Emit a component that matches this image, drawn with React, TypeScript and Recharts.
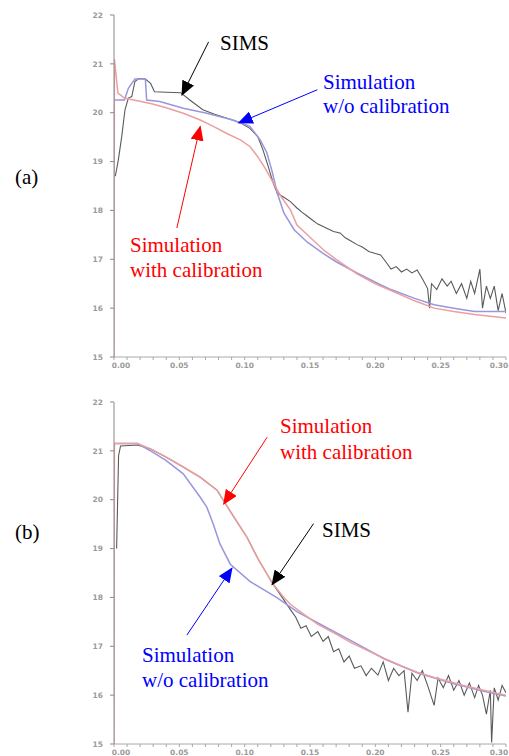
import React from "react";
import { LineChart, Line, XAxis, YAxis, ReferenceLine } from "recharts";

// axis ticks (depth in um, log10 concentration)
const X_TICKS = [0, 0.01, 0.02, 0.03, 0.04, 0.05, 0.06, 0.07, 0.08, 0.09, 0.1, 0.11, 0.12, 0.13, 0.14, 0.15, 0.16, 0.17, 0.18, 0.19, 0.2, 0.21, 0.22, 0.23, 0.24, 0.25, 0.26, 0.27, 0.28, 0.29, 0.3];
const X_LABELED = [0, 0.05, 0.1, 0.15, 0.2, 0.25, 0.3];
const Y_TICKS = [15, 16, 17, 18, 19, 20, 21, 22];

// ---- panel (a) ----
const A_SIMS_DEPTH = [0.001, 0.0033, 0.0059, 0.0084, 0.011, 0.0136, 0.016, 0.019, 0.024, 0.028, 0.031, 0.04, 0.051, 0.058, 0.068, 0.077, 0.086, 0.097, 0.104, 0.11, 0.114, 0.118, 0.122, 0.125, 0.13, 0.135, 0.14, 0.144, 0.148, 0.152, 0.156, 0.16, 0.164, 0.168, 0.173, 0.177, 0.181, 0.186, 0.19, 0.195, 0.2, 0.204, 0.208, 0.212, 0.216, 0.22, 0.224, 0.228, 0.232, 0.236, 0.24, 0.2415, 0.243, 0.247, 0.251, 0.255, 0.258, 0.262, 0.266, 0.27, 0.273, 0.276, 0.28, 0.282, 0.285, 0.288, 0.291, 0.294, 0.297, 0.3];
const A_SIMS_CONC = [18.7, 19.03, 19.51, 20.06, 20.3, 20.33, 20.64, 20.7, 20.69, 20.6, 20.43, 20.42, 20.41, 20.26, 20.06, 19.97, 19.89, 19.79, 19.68, 19.51, 19.24, 18.9, 18.55, 18.35, 18.27, 18.18, 18.05, 17.96, 17.88, 17.8, 17.72, 17.67, 17.62, 17.57, 17.54, 17.44, 17.38, 17.3, 17.25, 17.16, 17.12, 17.09, 16.95, 16.8, 16.85, 16.74, 16.8, 16.72, 16.78, 16.6, 16.4, 16.0, 16.5, 16.38, 16.6, 16.45, 16.55, 16.3, 16.5, 16.2, 16.55, 16.3, 16.8, 16.0, 16.45, 16.2, 16.45, 15.95, 16.3, 15.9];

const A_NOCAL_DEPTH = [0, 0.008, 0.011, 0.0136, 0.016, 0.024, 0.025, 0.035, 0.053, 0.071, 0.091, 0.104, 0.112, 0.117, 0.121, 0.125, 0.13, 0.138, 0.148, 0.16, 0.17, 0.186, 0.2, 0.212, 0.23, 0.245, 0.26, 0.276, 0.3];
const A_NOCAL_CONC = [20.26, 20.26, 20.5, 20.6, 20.69, 20.69, 20.26, 20.23, 20.09, 19.99, 19.85, 19.72, 19.44, 19.18, 18.8, 18.35, 17.95, 17.6, 17.35, 17.12, 16.95, 16.72, 16.53, 16.38, 16.2, 16.07, 16.0, 15.93, 15.93];

const A_CAL_DEPTH = [0, 0.0003, 0.003, 0.008, 0.015, 0.028, 0.04, 0.053, 0.066, 0.076, 0.086, 0.097, 0.104, 0.11, 0.116, 0.122, 0.128, 0.135, 0.14, 0.15, 0.16, 0.17, 0.186, 0.2, 0.212, 0.23, 0.245, 0.26, 0.276, 0.3];
const A_CAL_CONC = [15, 21.1, 20.4, 20.3, 20.26, 20.19, 20.1, 19.99, 19.85, 19.72, 19.58, 19.44, 19.31, 19.1, 18.85, 18.56, 18.28, 18.01, 17.7, 17.45, 17.2, 17.0, 16.7, 16.5, 16.36, 16.15, 16.0, 15.93, 15.87, 15.8];

// ---- panel (b) ----
const B_SIMS_DEPTH = [0.002, 0.0035, 0.005, 0.018, 0.028, 0.04, 0.053, 0.066, 0.079, 0.09, 0.102, 0.11, 0.121, 0.13, 0.135, 0.139, 0.143, 0.147, 0.151, 0.156, 0.16, 0.164, 0.168, 0.172, 0.176, 0.18, 0.184, 0.189, 0.193, 0.197, 0.202, 0.206, 0.21, 0.214, 0.218, 0.222, 0.225, 0.228, 0.232, 0.236, 0.24, 0.245, 0.248, 0.252, 0.256, 0.26, 0.264, 0.268, 0.272, 0.276, 0.279, 0.282, 0.285, 0.288, 0.289, 0.291, 0.294, 0.297, 0.3];
const B_SIMS_CONC = [19.0, 20.9, 21.1, 21.12, 21.04, 20.87, 20.67, 20.46, 20.19, 19.72, 19.22, 18.8, 18.3, 17.95, 17.75, 17.6, 17.37, 17.42, 17.2, 17.3, 17.1, 17.2, 16.89, 16.95, 16.68, 16.8, 16.55, 16.6, 16.4, 16.55, 16.41, 16.68, 16.3, 16.55, 16.4, 16.5, 15.65, 16.45, 16.3, 16.5, 16.2, 15.79, 16.35, 16.15, 16.4, 16.1, 16.3, 16.0, 16.25, 15.95, 16.2, 16.0, 15.61, 16.1, 15.03, 16.15, 15.9, 16.2, 16.05];

const B_NOCAL_DEPTH = [0, 0.018, 0.028, 0.04, 0.053, 0.066, 0.071, 0.076, 0.081, 0.089, 0.104, 0.125, 0.14, 0.16, 0.186, 0.207, 0.232, 0.258, 0.283, 0.3];
const B_NOCAL_CONC = [21.15, 21.15, 21.0, 20.8, 20.53, 20.05, 19.85, 19.5, 19.1, 18.68, 18.33, 17.99, 17.71, 17.42, 17.05, 16.74, 16.46, 16.25, 16.08, 15.98];

const B_CAL_DEPTH = [0, 0.0003, 0.018, 0.028, 0.04, 0.053, 0.066, 0.079, 0.09, 0.102, 0.11, 0.121, 0.13, 0.135, 0.143, 0.156, 0.17, 0.181, 0.195, 0.207, 0.22, 0.232, 0.245, 0.258, 0.27, 0.283, 0.3];
const B_CAL_CONC = [15, 21.15, 21.15, 21.04, 20.87, 20.67, 20.46, 20.19, 19.72, 19.22, 18.8, 18.3, 18.0, 17.86, 17.7, 17.45, 17.25, 17.08, 16.9, 16.75, 16.6, 16.47, 16.36, 16.27, 16.18, 16.1, 16.0];

const SIMS_COLOR = "#5a5a5a";
const NOCAL_COLOR = "#9896dc";
const CAL_COLOR = "#eb9f9f";
const FONT = "'Liberation Serif', 'Times New Roman', serif";

type Arrow = { from: [number, number]; to: [number, number]; color: string; head: string };

const A_ARROWS: Arrow[] = [
  { from: [0.0724, 21.45], to: [0.052, 20.36], color: "#000", head: "hk" },
  { from: [0.1556, 20.47], to: [0.0954, 19.79], color: "#0000ff", head: "hb" },
  { from: [0.0481, 17.64], to: [0.066, 19.72], color: "#ff0000", head: "hr" },
];
const B_ARROWS: Arrow[] = [
  { from: [0.1172, 21.28], to: [0.0839, 19.91], color: "#ff0000", head: "hr" },
  { from: [0.1527, 19.51], to: [0.121, 18.26], color: "#000", head: "hk" },
  { from: [0.0558, 17.23], to: [0.0903, 18.6], color: "#0000ff", head: "hb" },
];

const zip = (xs: number[], ys: number[]) => xs.map((x, i) => ({ depth: x, conc: ys[i] }));

const tickStyle = { fontSize: 7.5, fill: "#9a9a9a", fontFamily: "DejaVu Sans", fontWeight: 700 };

// bottom tick: label only every 0.05; first/last nudged like the scan
const DepthTick = (p: any) => {
  const v = p.payload.value;
  if (!X_LABELED.some((l) => Math.abs(l - v) < 1e-6)) return <g />;
  const dx = v === 0 ? 7 : v >= 0.3 ? -7 : 0;
  return (
    <text x={p.x + dx} y={p.y} dy="0.71em" textAnchor="middle" {...tickStyle}>
      {v.toFixed(2)}
    </text>
  );
};

function Panel({ sims, nocal, cal, arrows }: { sims: any[]; nocal: any[]; cal: any[]; arrows: Arrow[] }) {
  return (
    <LineChart width={509} height={373} margin={{ top: 15, right: 3, left: 0, bottom: 0 }}>
      <XAxis
        dataKey="depth"
        type="number"
        domain={[0, 0.3]}
        ticks={X_TICKS}
        interval={0}
        allowDataOverflow
        height={16}
        tickSize={3}
        tickMargin={3}
        stroke="#a8a8a8"
        tick={DepthTick}
      />
      <XAxis
        xAxisId="top"
        orientation="top"
        type="number"
        domain={[0, 0.3]}
        ticks={X_TICKS}
        interval={0}
        height={0}
        tickSize={3}
        stroke="#a8a8a8"
        tickFormatter={() => ""}
      />
      <YAxis
        type="number"
        domain={[15, 22]}
        ticks={Y_TICKS}
        interval={0}
        width={114}
        tickSize={4}
        tickMargin={7}
        stroke="#8a8a8a"
        tick={tickStyle}
      />
      <YAxis yAxisId="right" orientation="right" domain={[15, 22]} width={0} tick={false} tickLine={false} stroke="#a8a8a8" />
      <Line data={sims} dataKey="conc" type="linear" stroke={SIMS_COLOR} strokeWidth={1.1} dot={false} isAnimationActive={false} />
      <Line data={nocal} dataKey="conc" type="linear" stroke={NOCAL_COLOR} strokeWidth={1.5} dot={false} isAnimationActive={false} />
      <Line data={cal} dataKey="conc" type="linear" stroke={CAL_COLOR} strokeWidth={1.5} dot={false} isAnimationActive={false} />
      {arrows.map((a, i) => (
        <ReferenceLine
          key={i}
          segment={[{ x: a.from[0], y: a.from[1] }, { x: a.to[0], y: a.to[1] }]}
          ifOverflow="visible"
          shape={(p: any) => (
            <line x1={p.x1} y1={p.y1} x2={p.x2} y2={p.y2} stroke={a.color} strokeWidth={1} markerEnd={`url(#${a.head})`} />
          )}
        />
      ))}
    </LineChart>
  );
}

function Note({ left, top, color, lines, lh = 24 }: { left: number; top: number; color: string; lines: string[]; lh?: number }) {
  return (
    <div style={{ position: "absolute", left, top, color, fontFamily: FONT, fontSize: 21, lineHeight: `${lh}px`, whiteSpace: "nowrap" }}>
      {lines.map((l, i) => (
        <div key={i}>{l}</div>
      ))}
    </div>
  );
}

export default function App() {
  return (
    <div style={{ position: "absolute", left: 0, top: 0, width: 509, height: 756, background: "#fff", overflow: "hidden" }}>
      <svg width={0} height={0} style={{ position: "absolute" }}>
        <defs>
          {[["hk", "#000"], ["hb", "#0000ff"], ["hr", "#ff0000"]].map(([id, c]) => (
            <marker key={id} id={id} markerUnits="userSpaceOnUse" markerWidth={15} markerHeight={13} refX={14} refY={6.5} orient="auto">
              <path d="M0,0 L15,6.5 L0,13 z" fill={c} />
            </marker>
          ))}
        </defs>
      </svg>
      <div style={{ position: "absolute", left: 0, top: 0 }}>
        <Panel sims={zip(A_SIMS_DEPTH, A_SIMS_CONC)} nocal={zip(A_NOCAL_DEPTH, A_NOCAL_CONC)} cal={zip(A_CAL_DEPTH, A_CAL_CONC)} arrows={A_ARROWS} />
      </div>
      <div style={{ position: "absolute", left: 0, top: 387 }}>
        <Panel sims={zip(B_SIMS_DEPTH, B_SIMS_CONC)} nocal={zip(B_NOCAL_DEPTH, B_NOCAL_CONC)} cal={zip(B_CAL_DEPTH, B_CAL_CONC)} arrows={B_ARROWS} />
      </div>
      <Note left={15} top={165} color="#000" lines={["(a)"]} />
      <Note left={15} top={520} color="#000" lines={["(b)"]} />
      <Note left={220} top={31} color="#000" lines={["SIMS"]} />
      <Note left={323} top={71} color="#0000ff" lines={["Simulation", "w/o calibration"]} lh={23.5} />
      <Note left={130} top={233} color="#ff0000" lines={["Simulation", "with calibration"]} lh={25} />
      <Note left={280} top={413} color="#ff0000" lines={["Simulation", "with calibration"]} lh={26} />
      <Note left={322} top={518} color="#000" lines={["SIMS"]} />
      <Note left={142} top={643} color="#0000ff" lines={["Simulation", "w/o calibration"]} lh={25} />
    </div>
  );
}
